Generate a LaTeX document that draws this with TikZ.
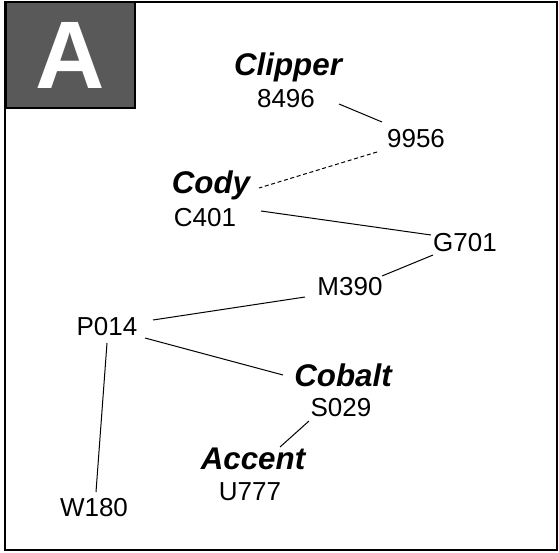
\documentclass[tikz,border=0pt]{standalone}
\usepackage{fontspec}
\setmainfont{Liberation Sans}
\begin{document}
\begin{tikzpicture}[x=0.75pt,y=-0.75pt,
  num/.style={font=\fontsize{19.5}{21}\selectfont, inner sep=2pt},
  lab/.style={font=\fontsize{23.5}{25}\selectfont\bfseries\itshape, inner sep=2pt},
  edge/.style={draw, line width=0.75pt},
  dedge/.style={draw, line width=0.75pt, dash pattern=on 3pt off 2pt}]
\useasboundingbox (0,0) rectangle (559,552);
\draw[line width=1.5pt] (5,2) rectangle (557,550);
\node[draw=black, line width=1.5pt, fill=black!65, minimum width=96.75pt, minimum height=79.5pt, anchor=north west, inner sep=0pt] (boxA) at (5,1) {};
\node[text=white, font=\fontsize{72}{72}\selectfont\bfseries] (letterA) at (boxA.center) {A};
% nodes
\node[lab] (clipper) at (288,67) {Clipper};
\node[num] (n8496) at (286,99) {8496};
\node[num] (n9956) at (416,139) {9956};
\node[lab] (cody) at (211,185) {Cody};
\node[num] (c401) at (205,218) {C401};
\node[num] (g701) at (465,243) {G701};
\node[num] (m390) at (350,287) {M390};
\node[num] (p014) at (107,327) {P014};
\node[lab] (cobalt) at (343,375) {Cobalt};
\node[num] (s029) at (341,408) {S029};
\node[lab] (accent) at (253,459) {Accent};
\node[num] (u777) at (250,492) {U777};
\node[num] (w180) at (94,508) {W180};
% edges
\draw[edge] ([shift={(53,5)}]n8496.center) -- ([shift={(-34,-17)}]n9956.center);
\draw[dedge] ([shift={(-39,13)}]n9956.center) -- ([shift={(48,3)}]cody.center);
\draw[edge] ([shift={(56,-7)}]c401.center) -- ([shift={(-34,-8)}]g701.center);
\draw[edge] ([shift={(-32,12)}]g701.center) -- ([shift={(32,-11)}]m390.center);
\draw[edge] ([shift={(-45,10)}]m390.center) -- ([shift={(46,-7)}]p014.center);
\draw[edge] ([shift={(38,11)}]p014.center) -- ([shift={(-60,0)}]cobalt.center);
\draw[edge] ([shift={(0,16)}]p014.center) -- ([shift={(2,-16)}]w180.center);
\draw[edge] ([shift={(-32,13)}]s029.center) -- ([shift={(27,-12)}]accent.center);
\end{tikzpicture}
\end{document}
